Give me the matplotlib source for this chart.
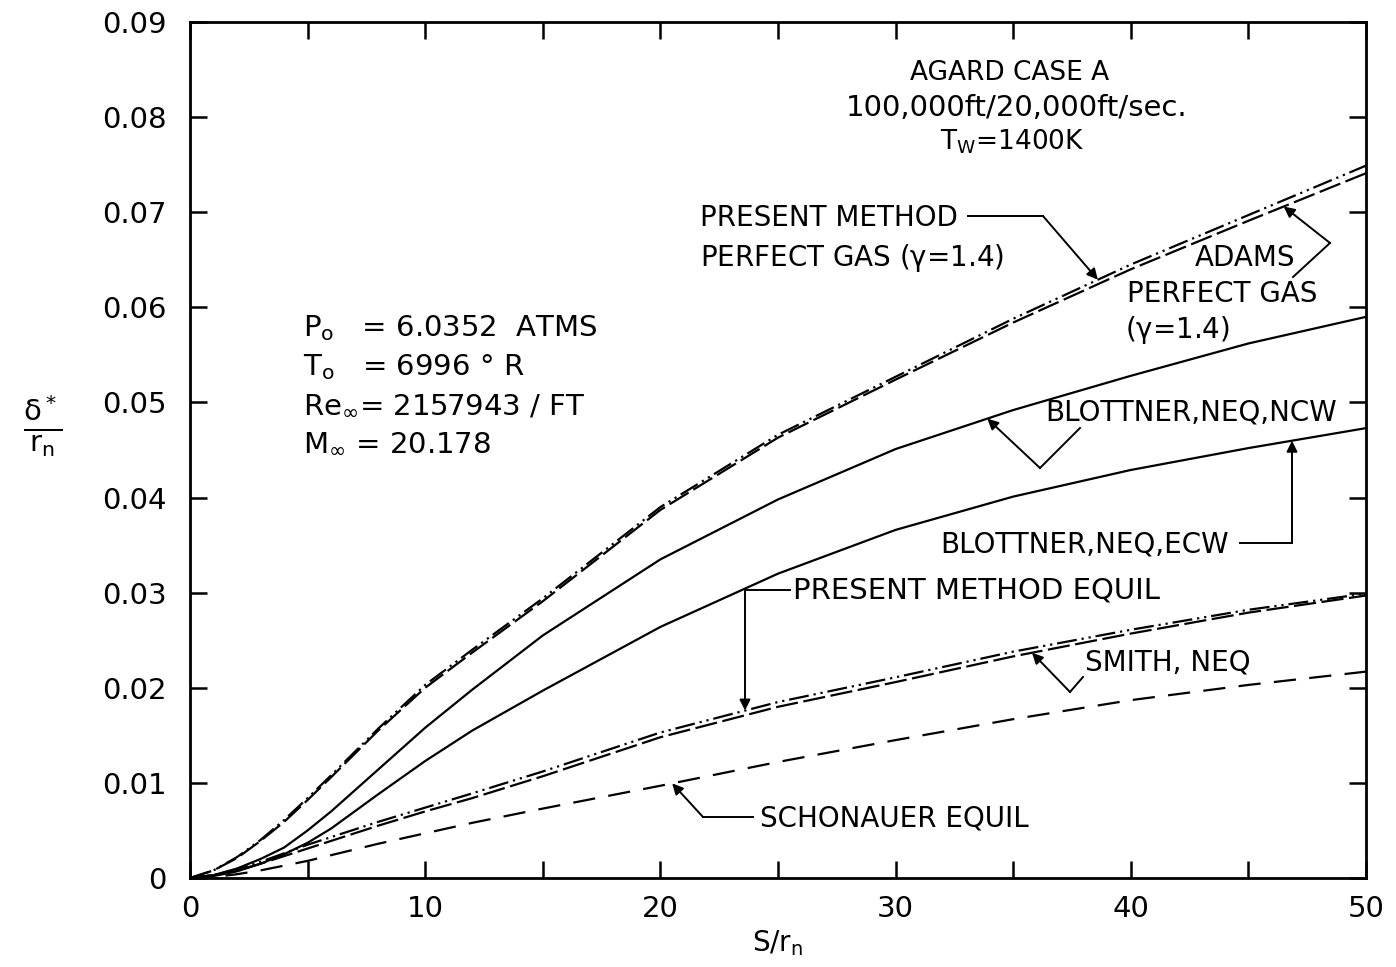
import numpy as np
import matplotlib
matplotlib.use("Agg")
import matplotlib.pyplot as plt

# ---------------- data ----------------
s = [0, 1, 2, 3, 4, 5, 6, 8, 10, 12, 15, 20, 25, 30, 35, 40, 45, 50]

present_pg = [0, 0.0008, 0.0022, 0.0040, 0.0061, 0.0084, 0.0108, 0.0157, 0.0203, 0.0240,
              0.0294, 0.0390, 0.0466, 0.0527, 0.0588, 0.0645, 0.0697, 0.0749]
adams_pg = [0, 0.0008, 0.0021, 0.0039, 0.0059, 0.0082, 0.0106, 0.0155, 0.0200, 0.0237,
            0.0291, 0.0387, 0.0463, 0.0524, 0.0584, 0.0640, 0.0691, 0.0741]
blottner_ncw = [0, 0.0003, 0.0010, 0.0020, 0.0032, 0.0050, 0.0070, 0.0114, 0.0158, 0.0198,
                0.0255, 0.0335, 0.0398, 0.0451, 0.0492, 0.0528, 0.0562, 0.0590]
blottner_ecw = [0, 0.0002, 0.0007, 0.0015, 0.0025, 0.0037, 0.0052, 0.0088, 0.0123, 0.0155,
                0.0197, 0.0264, 0.0320, 0.0366, 0.0401, 0.0429, 0.0452, 0.0473]
present_equil = [0, 0.0003, 0.0009, 0.0017, 0.0026, 0.0035, 0.0043, 0.0059, 0.0074, 0.0089,
                 0.0112, 0.0153, 0.0185, 0.0211, 0.0238, 0.0261, 0.0282, 0.0299]
smith_neq = [0, 0.0003, 0.0008, 0.0015, 0.0023, 0.0031, 0.0039, 0.0055, 0.0070, 0.0084,
             0.0107, 0.0148, 0.0180, 0.0206, 0.0233, 0.0257, 0.0279, 0.0297]
schonauer = [0, 0.0001, 0.0004, 0.0008, 0.0013, 0.0018, 0.0024, 0.0036, 0.0047, 0.0058,
             0.0073, 0.0097, 0.0122, 0.0145, 0.0167, 0.0187, 0.0203, 0.0217]

x_major = [0, 10, 20, 30, 40, 50]
x_minor = [5, 15, 25, 35, 45]
y_ticks = [0, 0.01, 0.02, 0.03, 0.04, 0.05, 0.06, 0.07, 0.08, 0.09]
y_labels = ['0', '0.01', '0.02', '0.03', '0.04', '0.05', '0.06', '0.07', '0.08', '0.09']

# ---------------- figure ----------------
plt.rcParams['font.family'] = ['DejaVu Sans']
plt.rcParams['mathtext.default'] = 'regular'
W, H = 1396, 967
fig = plt.figure(figsize=(W / 100, H / 100), dpi=100)
L, R, B, T = 190, 1366, 878, 22
ax = fig.add_axes([L / W, (H - B) / H, (R - L) / W, (B - T) / H])
ax.set_xlim(0, 50)
ax.set_ylim(0, 0.09)


def P(px, py):
    """pixel position -> data position (for text placement)"""
    return (px - L) / (R - L) * 50, (B - py) / (B - T) * 0.09


lw = 1.6
k = 'black'
ax.plot(s, present_pg, color=k, lw=lw, ls=(0, (9, 2.2, 1, 2.2, 1, 2.2)))
ax.plot(s, adams_pg, color=k, lw=lw, ls=(0, (10, 2.5)))
ax.plot(s, blottner_ncw, color=k, lw=lw)
ax.plot(s, blottner_ecw, color=k, lw=lw)
ax.plot(s, present_equil, color=k, lw=lw, ls=(0, (9, 2.2, 1, 2.2, 1, 2.2)))
ax.plot(s, smith_neq, color=k, lw=lw, ls=(0, (10, 2.5)))
ax.plot(s, schonauer, color=k, lw=lw, ls=(0, (10, 6)))

# ticks
ax.set_xticks(x_major)
ax.set_xticks(x_minor, minor=True)
ax.set_yticks(y_ticks)
ax.set_yticklabels(y_labels)
ax.tick_params(axis='both', which='both', direction='in', length=12, width=1.8,
               top=True, right=True, labelsize=21)
ax.tick_params(axis='y', pad=17)
ax.tick_params(axis='x', pad=12)
for sp in ax.spines.values():
    sp.set_linewidth(2)

ax.set_xlabel('S/r$_n$', fontsize=20, labelpad=4)
ax.set_ylabel(r'$\frac{\delta^*}{r_n}$', fontsize=30, rotation=0, labelpad=0)
ax.yaxis.set_label_coords(-0.125, 0.49)

fs = 20

# title block
ax.text(*P(1010, 73), 'AGARD CASE A', fontsize=19, ha='center', va='center')
ax.text(*P(1017, 108), '100,000ft/20,000ft/sec.', fontsize=21, ha='center', va='center')
ax.text(*P(1012, 142), 'T$_W$=1400K', fontsize=19, ha='center', va='center')

# parameter block
ax.text(*P(303, 328), 'P$_o$   = 6.0352  ATMS', fontsize=21, ha='left', va='center')
ax.text(*P(303, 367), 'T$_o$   = 6996 ° R', fontsize=21, ha='left', va='center')
ax.text(*P(303, 405), r'Re$_\infty$= 2157943 / FT', fontsize=21, ha='left', va='center')
ax.text(*P(303, 443), r'M$_\infty$ = 20.178', fontsize=21, ha='left', va='center')


def leader(points_px, curve, s_tip):
    """polyline from label, ending in arrow on the curve"""
    pts = [P(*p) for p in points_px]
    tip = (s_tip, float(np.interp(s_tip, s, curve)))
    xs = [p[0] for p in pts]
    ys = [p[1] for p in pts]
    ax.plot(xs, ys, color=k, lw=1.4, clip_on=False)
    ax.annotate('', xy=tip, xytext=pts[-1],
                arrowprops=dict(arrowstyle='-|>', color=k, lw=1.4,
                                mutation_scale=16, shrinkA=0, shrinkB=0))


# Present method perfect gas
ax.text(*P(700, 218), 'PRESENT METHOD', fontsize=fs, ha='left', va='center')
ax.text(*P(700, 258), r'PERFECT GAS ($\gamma$=1.4)', fontsize=fs, ha='left', va='center')
leader([(968, 216), (1043, 216)], present_pg, 38.6)

# Adams
ax.text(*P(1245, 258), 'ADAMS', fontsize=fs, ha='center', va='center')
ax.text(*P(1127, 294), 'PERFECT GAS', fontsize=fs, ha='left', va='center')
ax.text(*P(1125, 330), r'($\gamma$=1.4)', fontsize=fs, ha='left', va='center')
leader([(1293, 277), (1330, 243)], adams_pg, 46.5)

# Blottner NCW
ax.text(*P(1045, 413), 'BLOTTNER,NEQ,NCW', fontsize=fs, ha='left', va='center')
leader([(1080, 428), (1040, 468)], blottner_ncw, 33.9)

# Blottner ECW
ax.text(*P(940, 545), 'BLOTTNER,NEQ,ECW', fontsize=fs, ha='left', va='center')
leader([(1240, 543), (1292, 543)], blottner_ecw, (1292 - L) / (R - L) * 50)

# Present method equil
ax.text(*P(793, 590), 'PRESENT METHOD EQUIL', fontsize=21, ha='left', va='center')
leader([(790, 590), (745, 590)], present_equil, (745 - L) / (R - L) * 50)

# Smith
ax.text(*P(1085, 662), 'SMITH, NEQ', fontsize=fs, ha='left', va='center')
leader([(1083, 677), (1070, 692)], smith_neq, 35.8)

# Schonauer
ax.text(*P(760, 818), 'SCHONAUER EQUIL', fontsize=fs, ha='left', va='center')
leader([(753, 817), (703, 817)], schonauer, 20.5)

fig.savefig('out.png', dpi=100)
